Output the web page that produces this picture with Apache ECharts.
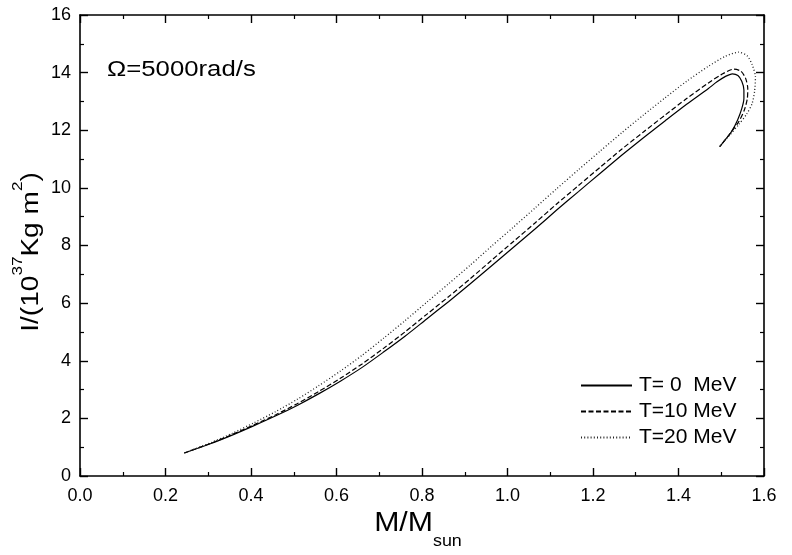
<!DOCTYPE html>
<html>
<head>
<meta charset="utf-8">
<script src="https://cdn.jsdelivr.net/npm/echarts@6/dist/echarts.min.js"></script>
<style>html,body{margin:0;padding:0;background:#fff}#c{width:792px;height:555px}</style>
</head>
<body>
<div id="c"></div>
<script>
var seriesNames = ['T= 0  MeV', 'T=10 MeV', 'T=20 MeV'];
var xTicks = [0.0, 0.2, 0.4, 0.6, 0.8, 1.0, 1.2, 1.4, 1.6];
var yTicks = [0, 2, 4, 6, 8, 10, 12, 14, 16];

var massT0 = [0.244,0.305,0.356,0.406,0.457,0.508,0.558,0.609,0.660,0.710,0.761,0.811,0.862,0.913,0.963,1.014,1.065,1.115,1.166,1.217,1.267,1.318,1.369,1.419,1.470,1.490,1.510,1.526,1.539,1.548,1.553,1.553,1.548,1.538,1.524,1.510,1.496];
var inertT0 = [0.80,1.12,1.42,1.74,2.08,2.45,2.85,3.29,3.77,4.30,4.86,5.45,6.05,6.67,7.30,7.94,8.58,9.23,9.87,10.51,11.13,11.74,12.33,12.90,13.45,13.68,13.87,13.96,13.90,13.70,13.40,13.10,12.75,12.35,11.95,11.68,11.42];

var massT10 = [0.244,0.305,0.356,0.406,0.457,0.508,0.558,0.609,0.660,0.710,0.761,0.811,0.862,0.913,0.963,1.014,1.065,1.115,1.166,1.217,1.267,1.318,1.369,1.419,1.470,1.500,1.529,1.546,1.557,1.562,1.561,1.554,1.541,1.524,1.510,1.497];
var inertT10 = [0.80,1.13,1.44,1.77,2.12,2.51,2.93,3.39,3.89,4.43,5.01,5.61,6.22,6.85,7.49,8.14,8.79,9.44,10.08,10.72,11.34,11.94,12.53,13.10,13.64,13.93,14.12,14.05,13.80,13.45,13.10,12.70,12.30,11.95,11.68,11.44];

var massT20 = [0.244,0.305,0.356,0.406,0.457,0.508,0.558,0.609,0.660,0.710,0.761,0.811,0.862,0.913,0.963,1.014,1.065,1.115,1.166,1.217,1.267,1.318,1.369,1.419,1.470,1.510,1.541,1.561,1.573,1.580,1.578,1.572,1.559,1.541,1.521,1.505,1.497];
var inertT20 = [0.80,1.15,1.48,1.84,2.23,2.66,3.13,3.64,4.19,4.78,5.40,6.03,6.67,7.32,7.98,8.64,9.31,9.97,10.63,11.28,11.91,12.53,13.13,13.70,14.22,14.57,14.71,14.58,14.25,13.84,13.35,12.92,12.55,12.20,11.85,11.60,11.45];

function pairs(xs, ys) { return xs.map(function (x, i) { return [x, ys[i]]; }); }

var FONT = '"Liberation Sans", Arial, sans-serif';
var chart = echarts.init(document.getElementById('c'), null, { renderer: 'canvas' });

function axisCommon(showLabel, isX) {
  return {
    type: 'value',
    min: 0,
    max: isX ? 1.6 : 16,
    interval: isX ? 0.2 : 2,
    axisLine: { show: true, onZero: false, lineStyle: { color: '#000', width: 1.6 } },
    axisTick: { show: true, inside: true, length: 8, lineStyle: { color: '#000', width: 1.4 } },
    minorTick: { show: true, splitNumber: 2, length: 4, lineStyle: { color: '#000', width: 1.2 } },
    splitLine: { show: false },
    axisLabel: {
      show: showLabel,
      color: '#000',
      fontSize: 18,
      fontFamily: FONT,
      margin: isX ? 11 : 9,
      formatter: isX ? function (v) { return v.toFixed(1); } : function (v) { return String(v); }
    }
  };
}

var xBottom = axisCommon(true, true); xBottom.position = 'bottom';
var xTop = axisCommon(false, true); xTop.position = 'top';
var yLeft = axisCommon(true, false); yLeft.position = 'left';
var yRight = axisCommon(false, false); yRight.position = 'right';

var styles = [
  { type: 'solid', width: 1.2 },
  { type: [5, 2.5], width: 1.2 },
  { type: [1, 2.2], width: 1.3 }
];
var datasets = [pairs(massT0, inertT0), pairs(massT10, inertT10), pairs(massT20, inertT20)];

var series = seriesNames.map(function (n, i) {
  return {
    name: n,
    type: 'line',
    data: datasets[i],
    symbol: 'none',
    smooth: 0.25,
    xAxisIndex: 0,
    yAxisIndex: 0,
    lineStyle: { color: i === 2 ? '#222' : '#000', type: styles[i].type, width: styles[i].width },
    itemStyle: { color: '#000' },
    animation: false
  };
});

chart.setOption({
  animation: false,
  backgroundColor: '#fff',
  grid: { left: 80, right: 28, top: 15, bottom: 79, containLabel: false },
  xAxis: [xBottom, xTop],
  yAxis: [yLeft, yRight],
  legend: {
    orient: 'vertical',
    left: 575,
    top: 370,
    itemWidth: 51,
    itemHeight: 14,
    itemGap: 5,
    itemStyle: { opacity: 0 },
    textStyle: { color: '#000', fontSize: 21, fontFamily: FONT, padding: [0, 0, 0, 2] },
    data: seriesNames
  },
  series: series,
  graphic: [
    {
      type: 'text',
      left: 107,
      top: 59,
      scaleX: 1.17,
      style: { text: 'Ω=5000rad/s', font: '22px "Liberation Sans", Arial, sans-serif', fill: '#000' }
    },
    {
      type: 'text',
      x: 418,
      y: 530,
      scaleX: 1.12,
      style: {
        text: '{a|M/M}{s|sun}',
        align: 'center',
        verticalAlign: 'middle',
        rich: {
          a: { fontSize: 27, fontFamily: FONT, fill: '#000', color: '#000', lineHeight: 40, verticalAlign: 'top' },
          s: { fontSize: 16, fontFamily: FONT, fill: '#000', color: '#000', lineHeight: 16, verticalAlign: 'bottom' }
        }
      }
    },
    {
      type: 'text',
      x: 27,
      y: 252,
      rotation: Math.PI / 2,
      scaleX: 1.22,
      style: {
        text: '{a|I/(10}{s|37}{a|Kg m}{s|2}{a|)}',
        align: 'center',
        verticalAlign: 'middle',
        rich: {
          a: { fontSize: 23, fontFamily: FONT, fill: '#000', color: '#000', lineHeight: 32, verticalAlign: 'bottom' },
          s: { fontSize: 14, fontFamily: FONT, fill: '#000', color: '#000', lineHeight: 14, verticalAlign: 'top' }
        }
      }
    }
  ]
});
</script>
</body>
</html>
